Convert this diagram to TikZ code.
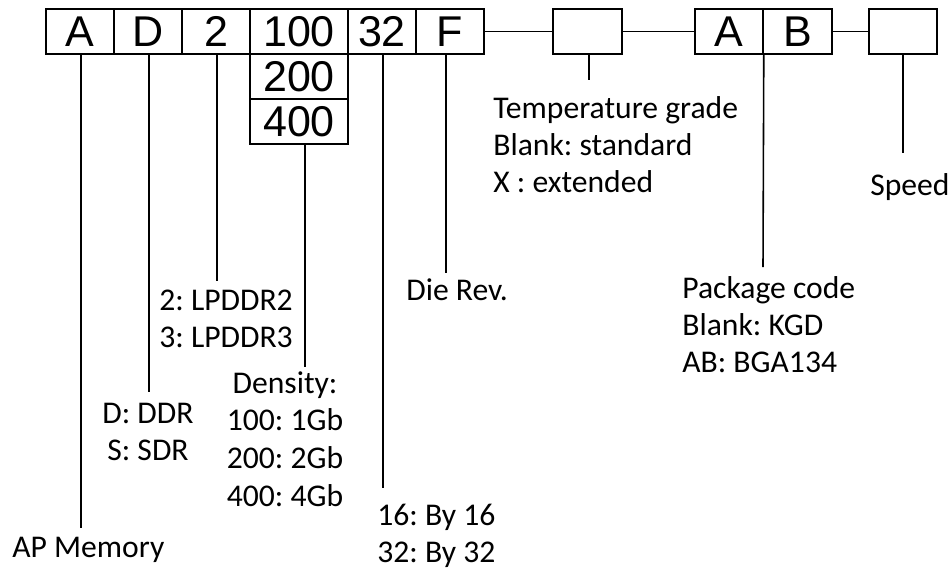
\documentclass[tikz,border=0pt]{standalone}
\usepackage{fontspec}
\setmainfont{Carlito}
\newfontfamily\boxfont{Liberation Sans}
\frenchspacing
\begin{document}
\begin{tikzpicture}[x=0.02cm,y=-0.02cm,
  cell/.style={draw,line width=0.9pt,inner sep=0pt,minimum height=0.9cm,
    minimum width=1.36cm,font=\boxfont\fontsize{24.5pt}{24.5pt}\selectfont},
  wide/.style={cell,minimum width=1.96cm},
  lbl/.style={inner sep=0pt,font=\fontsize{18pt}{20.9pt}\selectfont},
  wire/.style={line width=0.9pt}]
\path[use as bounding box] (0,0) rectangle (950,569);
% boxes
\node[cell] (bA) at (80,31.5) {A};
\node[cell] (bD) at (148,31.5) {D};
\node[cell] (b2) at (216,31.5) {2};
\node[wide] (b100) at (299,31.5) {100};
\node[wide] (b200) at (299,76.5) {200};
\node[wide] (b400) at (299,121.5) {400};
\node[cell] (b32) at (382,31.5) {32};
\node[cell] (bF) at (450,31.5) {F};
\node[cell,minimum width=1.38cm] (bT) at (587.5,31.5) {};
\node[cell] (bPA) at (729,31.5) {A};
\node[cell,minimum width=1.38cm] (bPB) at (797.5,31.5) {B};
\node[cell] (bS) at (903,31.5) {};
% horizontal connectors
\draw[wire] (bF.east) -- (bT.west);
\draw[wire] (bT.east) -- (bPA.west);
\draw[wire] (bPB.east) -- (bS.west);
% labels (anchor = baseline of the last line)
\node[lbl,anchor=base west,align=left] (tAP) at (12,557) {AP Memory};
\node[lbl,anchor=base,align=center] (tD) at (148,460) {D: DDR\\S: SDR};
\node[lbl,anchor=base west,align=left] (t2) at (159,347) {2: LPDDR2\\3: LPDDR3};
\node[lbl,anchor=base,align=center,font=\fontsize{18pt}{21.4pt}\selectfont] (tDen) at (285,506) {Density:\\100: 1Gb\\200: 2Gb\\400: 4Gb};
\node[lbl,anchor=base west,align=left] (t32) at (377,562) {16: By 16\\32: By 32};
\node[lbl,anchor=base west,align=left] (tF) at (406,300) {Die Rev.};
\node[lbl,anchor=base west,align=left] (tT) at (493,192) {Temperature grade\\Blank: standard\\X : extended};
\node[lbl,anchor=base west,align=left] (tP) at (682,372) {Package code\\Blank: KGD\\AB: BGA134};
\node[lbl,anchor=base west,align=left] (tS) at (870,195) {Speed};
% leader ends
\coordinate (eA) at (81,528);
\coordinate (eD) at (149,392);
\coordinate (e2) at (217,281);
\coordinate (eDen) at (305,367);
\coordinate (e32) at (383,488);
\coordinate (eF) at (446,273);
\coordinate (eT) at (589,80);
\coordinate (eP) at (763,267);
\coordinate (eS) at (903,153);
% leaders
\draw[wire] (bA.south -| eA) -- (eA);
\draw[wire] (bD.south -| eD) -- (eD);
\draw[wire] (b2.south -| e2) -- (e2);
\draw[wire] (b400.south -| eDen) -- (eDen);
\draw[wire] (b32.south -| e32) -- (e32);
\draw[wire] (bF.south -| eF) -- (eF);
\draw[wire] (bT.south -| eT) -- (eT);
\draw[wire] (bPA.south east) -- (eP);
\draw[wire] (bS.south -| eS) -- (eS);
\end{tikzpicture}
\end{document}
